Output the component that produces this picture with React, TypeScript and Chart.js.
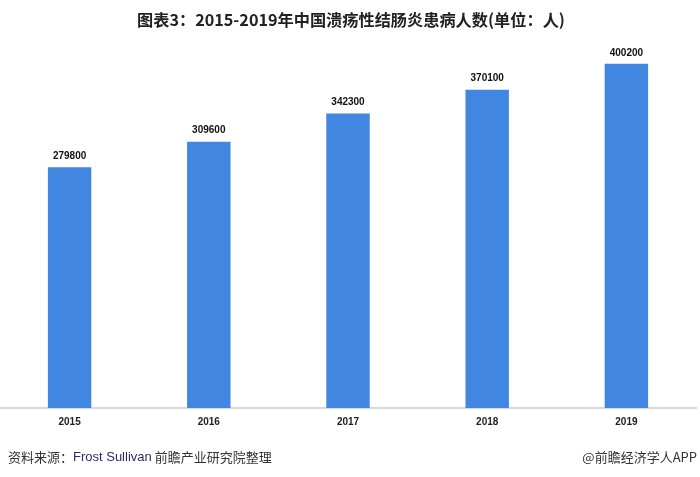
import React, { useEffect, useRef } from "react";
import { Chart, registerables } from "chart.js";

Chart.register(...registerables);

const categories = ["2015", "2016", "2017", "2018", "2019"];
const patients = [279800, 309600, 342300, 370100, 400200];
const titleText = "图表3：2015-2019年中国溃疡性结肠炎患病人数(单位：人)";
const sourceLabel = "资料来源：";
const sourceOrg = "Frost Sullivan";
const sourceRest = " 前瞻产业研究院整理";
const brandText = "@前瞻经济学人APP";

const BAR_COLOR = "#4186e0";

const textPlugin = {
  id: "textPlugin",
  afterDatasetsDraw(chart: any) {
    const ctx = chart.ctx;
    ctx.save();
    // value labels
    const meta = chart.getDatasetMeta(0);
    ctx.font = "bold 10px 'Liberation Sans', Arial, sans-serif";
    ctx.fillStyle = "#111";
    ctx.textAlign = "center";
    ctx.textBaseline = "bottom";
    meta.data.forEach((el: any, i: number) => {
      ctx.fillText(String(patients[i]), el.x, el.y - 6);
    });
    // title
    ctx.font = "bold 16.2px 'Liberation Sans Narrow', 'Noto Sans CJK SC', sans-serif";
    ctx.fillStyle = "#222";
    ctx.textAlign = "center";
    ctx.textBaseline = "middle";
    ctx.fillText(titleText, 351, 20);
    // footer
    ctx.font = "13px 'Noto Sans CJK SC', 'Liberation Sans', sans-serif";
    ctx.textAlign = "left";
    ctx.textBaseline = "middle";
    let x = 8;
    const y = 457;
    ctx.fillStyle = "#333";
    ctx.fillText(sourceLabel, x, y);
    x += ctx.measureText(sourceLabel).width;
    ctx.font = "13px 'Liberation Sans', 'Noto Sans CJK SC', sans-serif";
    ctx.fillStyle = "#2e2a6a";
    ctx.fillText(sourceOrg, x, y);
    x += ctx.measureText(sourceOrg).width;
    ctx.font = "13px 'Noto Sans CJK SC', 'Liberation Sans', sans-serif";
    ctx.fillStyle = "#333";
    ctx.fillText(sourceRest, x, y);
    ctx.textAlign = "right";
    ctx.fillText(brandText, 697, y);
    ctx.restore();
  },
};

export default function App() {
  const ref = useRef<HTMLCanvasElement>(null);
  useEffect(() => {
    if (!ref.current) return;
    const chart = new Chart(ref.current, {
      type: "bar",
      data: {
        labels: categories,
        datasets: [
          {
            data: patients,
            backgroundColor: BAR_COLOR,
            categoryPercentage: 1,
            barPercentage: 0.312,
          },
        ],
      },
      options: {
        animation: false,
        responsive: true,
        maintainAspectRatio: false,
        layout: { padding: { left: -2, right: 4, top: 21, bottom: 41 } },
        plugins: { legend: { display: false }, title: { display: false }, tooltip: { enabled: false } },
        scales: {
          x: {
            grid: { display: false, drawTicks: false },
            border: { display: true, color: "#d9d9d9", width: 2 },
            ticks: {
              color: "#222",
              font: { family: "'Liberation Sans', Arial, sans-serif", size: 10, weight: "bold" },
              padding: 8,
            },
          },
          y: {
            display: false,
            min: 0,
            max: 450000,
          },
        },
      },
      plugins: [textPlugin],
    });
    return () => chart.destroy();
  }, []);
  return (
    <div style={{ position: "absolute", left: 0, top: 0, width: 700, height: 477, background: "#fff" }}>
      <canvas ref={ref} />
    </div>
  );
}
